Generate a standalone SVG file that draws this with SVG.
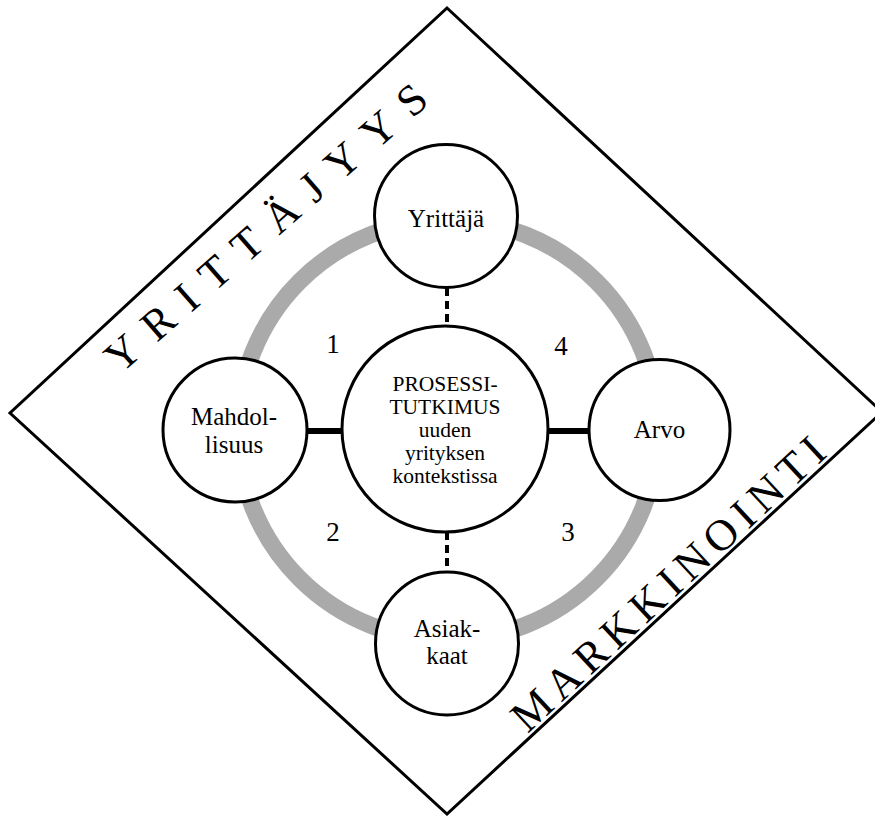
<svg xmlns="http://www.w3.org/2000/svg" width="875" height="816" viewBox="0 0 875 816">
<style>
text{font-family:"Liberation Serif","Times New Roman","DejaVu Serif",serif;fill:#000}
.node{fill:#fff;stroke:#000;stroke-width:3}
.lbl{font-size:25px;text-anchor:middle}
.clbl{font-size:21.5px;text-anchor:middle}
.num{font-size:27px;text-anchor:middle}
.edge{font-size:44px}
</style>
<rect width="875" height="816" fill="#fff"/>
<polygon points="447,8 882,412 447,814 10,413" fill="none" stroke="#000" stroke-width="3"/>
<text class="edge" transform="translate(120.6,374.5) rotate(-41.2)" letter-spacing="16.2">YRITTÄJYYS</text>
<text class="edge" transform="translate(527.5,734) rotate(-42.8)" letter-spacing="7.3">MARKKINOINTI</text>
<circle cx="448" cy="430" r="210" fill="none" stroke="#aaaaaa" stroke-width="17"/>
<g id="connectors">
<line x1="447" y1="288" x2="447" y2="328" stroke="#000" stroke-width="4" stroke-dasharray="8,5"/>
<line x1="447" y1="532" x2="447" y2="572" stroke="#000" stroke-width="4" stroke-dasharray="8,5"/>
<line x1="306" y1="431" x2="343" y2="431" stroke="#000" stroke-width="6"/>
<line x1="548" y1="431" x2="589" y2="431" stroke="#000" stroke-width="6"/>
</g>
<g id="center">
<circle class="node" cx="445" cy="429" r="103"/>
<text class="clbl" x="445" y="391">PROSESSI-</text>
<text class="clbl" x="445" y="414">TUTKIMUS</text>
<text class="clbl" x="445" y="437">uuden</text>
<text class="clbl" x="445" y="460">yrityksen</text>
<text class="clbl" x="445" y="483">kontekstissa</text>
</g>
<g id="yrittaja">
<circle class="node" cx="446" cy="216" r="71.5"/>
<text class="lbl" x="446" y="227">Yrittäjä</text>
</g>
<g id="mahdollisuus">
<circle class="node" cx="235" cy="430" r="72"/>
<text class="lbl" x="234" y="425">Mahdol-</text>
<text class="lbl" x="234" y="453">lisuus</text>
</g>
<g id="arvo">
<circle class="node" cx="659.5" cy="430" r="70.5"/>
<text class="lbl" x="659.5" y="438">Arvo</text>
</g>
<g id="asiakkaat">
<circle class="node" cx="447" cy="643.5" r="71.5"/>
<text class="lbl" x="447" y="637">Asiak-</text>
<text class="lbl" x="447" y="664">kaat</text>
</g>
<text class="num" x="333" y="353">1</text>
<text class="num" x="561" y="355">4</text>
<text class="num" x="333" y="541">2</text>
<text class="num" x="568" y="541">3</text>
</svg>
